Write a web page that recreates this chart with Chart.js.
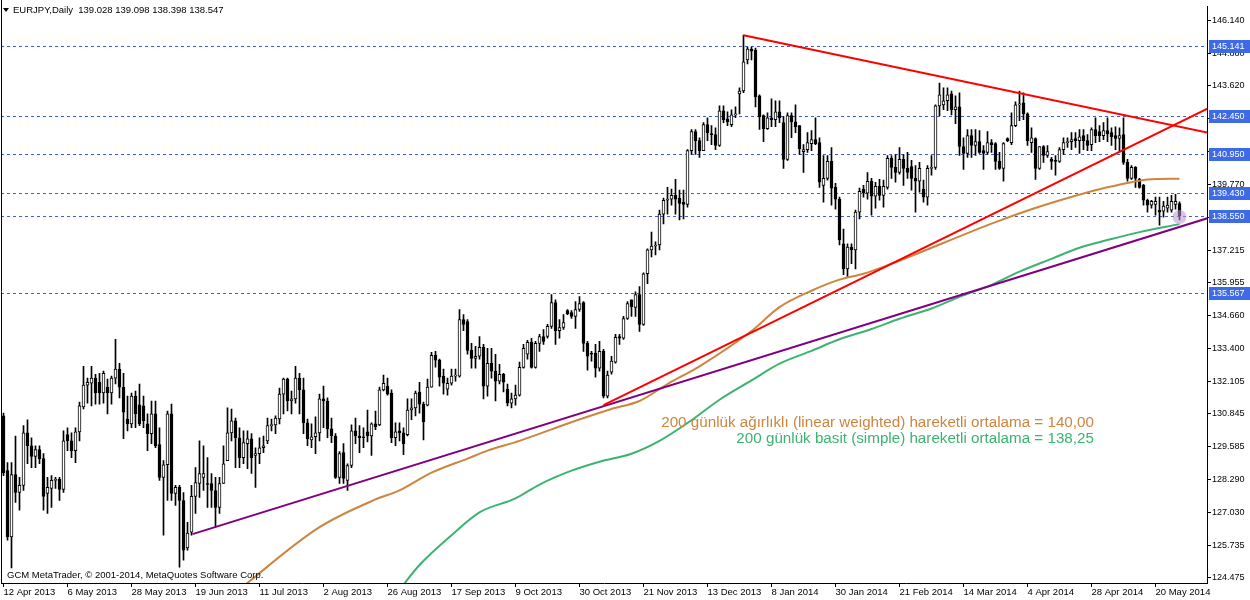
<!DOCTYPE html>
<html>
<head>
<meta charset="utf-8">
<title>EURJPY,Daily</title>
<script src="https://cdn.jsdelivr.net/npm/chart.js@4.4.1/dist/chart.umd.min.js"></script>
<style>
    html, body { margin: 0; padding: 0; background: #fff; }
    #wrap { width: 1250px; height: 600px; }
</style>
</head>
<body>
<div id="wrap"><canvas id="chart" width="1250" height="600"></canvas></div>
<script>
// Bar dates shown on the time axis (one label every 16 bars)
var dateLabels = ['12 Apr 2013', '6 May 2013', '28 May 2013', '19 Jun 2013', '11 Jul 2013', '2 Aug 2013',
    '26 Aug 2013', '17 Sep 2013', '9 Oct 2013', '30 Oct 2013', '21 Nov 2013', '13 Dec 2013', '8 Jan 2014',
    '30 Jan 2014', '21 Feb 2014', '14 Mar 2014', '4 Apr 2014', '28 Apr 2014', '20 May 2014'];
var labelStep = 16;

// Daily OHLC, bar 0 = 12 Apr 2013
var opens = [
    130.77,128.64,126.06,128.49,127.79,128.07,130.11,129.61,129.19,129.46,
    129.11,127.75,127.95,128.26,128.30,127.91,130.04,129.80,129.42,130.15,
    131.12,131.97,132.04,132.24,132.08,131.66,131.89,131.66,132.24,132.59,
    131.89,130.65,130.46,131.54,131.20,131.16,130.46,130.08,130.85,129.65,
    128.38,128.87,130.85,127.75,127.99,127.48,125.63,126.25,127.64,128.14,
    128.38,128.14,128.14,127.87,127.21,128.14,129.03,130.11,130.58,129.92,
    129.15,129.69,129.88,129.23,129.30,129.53,129.80,130.39,130.42,130.65,
    131.62,132.20,131.35,131.43,132.24,131.78,130.50,129.84,129.96,130.11,
    131.43,131.35,130.27,129.99,128.38,129.34,128.26,128.84,130.19,129.99,
    129.96,130.15,129.99,130.46,130.42,131.78,131.93,131.66,129.92,130.19,
    130.11,130.04,131.00,131.08,131.70,131.23,131.19,131.89,133.13,132.94,
    132.32,131.81,132.04,132.32,132.32,134.52,134.44,133.32,133.01,133.09,
    133.44,131.93,132.82,132.51,132.12,132.39,131.81,131.27,131.43,131.58,
    132.66,133.17,133.63,132.66,133.59,133.86,133.86,134.25,135.18,134.09,
    134.21,134.87,134.79,134.64,134.91,135.18,133.59,133.21,133.21,132.63,
    133.28,131.54,132.47,132.86,133.86,133.79,134.56,135.29,134.99,135.49,
    134.33,136.30,137.23,137.38,137.42,138.62,139.16,139.20,139.35,139.24,
    139.08,139.00,141.09,141.83,141.48,141.09,142.10,141.75,141.71,141.29,
    142.64,142.33,142.10,142.48,143.30,143.41,144.62,145.04,145.00,143.22,
    142.45,141.94,142.37,142.29,142.60,142.18,140.75,142.45,142.21,142.06,
    141.05,141.13,141.36,141.52,141.40,139.74,140.01,140.67,139.66,139.20,
    137.46,136.49,137.34,137.23,138.70,139.59,139.43,139.90,139.32,139.70,
    139.35,139.66,140.79,140.44,140.24,140.75,140.40,140.47,140.01,139.90,
    139.59,139.28,140.40,140.44,142.83,142.87,143.03,143.30,142.68,142.79,
    141.25,140.98,141.67,141.29,141.44,141.09,141.02,141.40,141.36,140.67,
    140.40,141.56,141.40,142.06,142.87,142.95,142.52,141.40,141.56,140.40,
    141.25,140.90,140.75,140.71,140.67,141.13,141.40,141.44,141.56,141.48,
    141.67,141.48,141.32,141.91,141.83,141.67,141.87,141.79,141.67,141.56,
    141.71,140.63,140.01,140.44,139.97,139.74,139.16,138.97,139.00,138.77,
    138.73,138.85,138.77,139.00,139.028
];
var highs = [
    130.88,128.95,128.95,129.99,128.38,130.39,130.62,129.92,129.61,129.61,
    129.30,128.38,128.45,128.38,128.38,130.19,130.31,130.11,130.31,131.31,
    132.70,132.24,132.70,132.39,132.43,132.51,132.20,132.32,133.75,132.82,
    132.43,131.54,131.66,131.74,132.01,131.54,130.85,131.35,131.35,130.31,
    129.03,130.96,131.23,128.07,128.07,127.79,126.63,128.07,128.76,129.80,
    129.61,129.15,128.53,128.38,128.38,129.61,131.08,131.04,130.69,130.31,
    130.19,130.19,130.08,129.53,129.92,129.99,130.69,130.65,130.77,131.85,
    132.24,132.24,131.74,132.70,132.43,132.24,130.65,130.46,130.73,131.62,
    131.93,131.47,130.69,130.08,129.38,129.69,128.91,130.42,130.69,130.39,
    130.31,131.00,130.50,130.96,131.89,132.36,132.24,131.78,130.50,130.50,
    130.31,131.43,131.43,131.74,132.08,131.31,132.20,133.24,133.28,132.98,
    132.59,132.24,132.59,132.59,134.91,134.71,134.52,133.59,133.48,133.86,
    133.55,133.40,133.40,133.17,132.78,132.43,132.01,131.66,131.97,132.86,
    133.55,133.71,133.79,133.67,133.94,134.13,134.33,135.49,135.29,134.52,
    134.71,134.91,134.87,135.22,135.41,135.22,133.67,133.28,133.55,133.67,
    133.36,132.51,133.09,133.94,133.94,134.64,135.22,135.29,135.60,135.80,
    136.34,137.27,137.92,137.54,138.78,139.24,139.66,139.59,139.97,139.55,
    139.55,141.13,141.91,141.91,141.59,142.18,142.37,142.06,141.98,142.83,
    142.83,142.60,142.68,142.79,143.53,145.58,145.12,145.12,145.08,143.26,
    142.48,142.56,143.10,143.03,143.03,142.41,142.56,142.56,142.87,142.06,
    141.32,141.79,141.87,142.37,141.59,140.90,140.90,141.21,139.82,139.28,
    138.04,137.46,137.46,138.78,139.63,139.74,140.24,140.01,139.86,139.97,
    139.94,140.90,140.90,140.94,141.21,140.94,141.02,140.71,140.51,140.63,
    139.94,140.51,140.90,142.87,143.72,143.53,143.53,143.41,143.22,143.34,
    141.59,141.91,141.91,141.91,141.87,141.29,141.83,141.52,141.40,141.02,
    141.40,141.59,142.56,142.99,143.41,143.34,142.56,141.98,141.59,141.25,
    141.29,141.29,140.83,140.90,141.21,141.59,141.59,141.79,141.79,141.91,
    141.91,141.71,141.98,142.37,142.06,142.18,142.37,141.98,142.02,141.98,
    142.37,140.75,140.51,140.47,140.01,139.78,139.20,139.16,139.28,139.28,
    139.12,139.28,139.35,139.39,139.098
];
var lows = [
    128.45,125.94,124.86,127.40,127.10,127.87,128.91,128.76,128.76,128.91,
    127.10,126.98,127.21,127.95,127.48,127.79,129.42,129.15,128.95,129.80,
    131.04,131.27,131.16,131.23,131.23,131.27,130.85,131.23,132.01,131.47,
    129.88,130.19,130.31,130.31,130.39,130.31,129.42,129.69,129.53,128.26,
    126.13,127.48,127.48,127.29,124.89,125.16,125.55,126.13,126.98,127.60,
    127.87,127.21,127.21,126.44,126.98,128.14,129.03,129.80,128.76,128.76,
    128.91,128.72,128.53,127.99,128.91,129.34,129.69,130.19,130.08,130.46,
    130.85,130.96,130.85,131.27,130.85,130.08,129.61,129.53,129.30,129.80,
    130.31,129.92,129.73,128.34,128.14,128.14,127.87,128.76,129.69,129.34,
    129.53,129.76,129.23,130.23,130.39,131.74,131.58,129.73,129.61,129.80,
    129.26,129.99,130.62,130.77,130.88,129.84,131.16,131.89,132.67,131.93,
    131.62,131.58,131.97,132.12,132.28,134.09,133.17,132.63,132.63,132.98,
    131.43,131.54,132.24,131.35,132.01,131.70,131.16,131.08,131.19,131.54,
    132.63,132.98,132.63,132.63,133.28,133.55,133.79,134.17,133.55,133.79,
    134.13,134.71,134.56,134.17,134.83,133.28,132.55,132.90,132.28,132.51,
    131.47,131.47,132.39,132.82,133.55,133.75,134.52,134.64,134.64,134.06,
    134.29,135.91,136.95,137.03,137.23,138.24,138.62,138.97,138.62,138.39,
    138.43,138.89,140.94,140.94,140.83,141.09,141.48,141.32,141.13,141.25,
    142.18,142.06,142.02,142.37,142.52,143.34,144.46,144.62,142.79,141.91,
    141.44,141.91,142.02,142.02,142.18,140.40,140.71,141.59,141.79,140.94,
    140.24,141.02,141.09,141.32,139.66,139.08,139.94,138.97,138.81,137.42,
    136.26,136.15,136.69,136.49,138.43,139.28,139.20,138.58,138.85,139.16,
    138.89,139.59,140.01,139.86,140.17,139.74,140.01,139.55,138.70,139.47,
    139.08,138.97,140.13,140.36,142.45,142.68,142.64,142.48,142.14,140.90,
    140.36,140.83,140.83,140.90,140.98,140.36,140.94,141.02,140.36,140.36,
    139.90,141.44,141.32,142.02,142.25,142.29,141.29,141.02,139.97,140.36,
    140.63,140.83,140.36,140.13,140.63,140.94,141.21,141.13,141.21,140.98,
    141.13,141.09,141.09,141.40,141.44,141.52,141.44,141.29,141.13,141.09,
    140.55,139.90,139.97,139.66,139.63,138.97,138.70,138.85,138.58,138.19,
    138.50,138.70,138.70,138.81,138.398
];
var closes = [
    128.56,126.06,128.49,127.79,128.07,130.11,129.61,129.19,129.46,129.11,
    127.64,127.99,128.26,128.30,127.91,129.80,129.80,129.42,130.15,131.16,
    131.97,132.08,132.24,131.66,131.66,132.43,131.66,132.24,132.59,131.89,
    130.92,130.46,131.54,130.85,130.46,130.58,130.08,130.85,129.61,128.38,
    128.87,130.85,127.75,127.99,127.48,125.55,126.21,127.64,128.18,128.53,
    128.53,128.10,127.87,127.21,128.14,128.91,130.11,130.58,129.92,129.15,
    129.73,129.88,129.15,129.30,129.53,129.61,130.39,130.42,130.69,131.62,
    132.20,131.35,131.43,132.24,131.78,130.50,129.88,129.96,130.11,131.43,
    131.35,130.27,129.99,128.38,129.30,128.34,128.84,130.19,129.99,129.92,
    129.92,129.99,130.46,130.35,131.78,132.04,131.62,129.92,130.15,130.11,
    129.69,131.00,131.08,131.66,131.23,130.54,131.89,133.13,132.94,132.28,
    132.04,132.04,132.32,132.36,134.52,134.33,133.32,133.01,133.09,133.44,
    131.93,132.82,132.51,132.12,132.39,132.08,131.27,131.43,131.58,132.66,
    133.40,133.63,132.66,133.59,133.86,133.67,134.25,135.18,134.09,134.21,
    134.40,134.75,134.64,134.91,135.14,133.59,133.09,133.17,132.63,133.28,
    131.54,132.36,132.90,133.83,133.79,134.56,135.14,135.02,135.49,134.33,
    136.30,137.23,137.38,137.42,138.62,139.16,139.20,139.35,139.20,139.04,
    139.00,141.09,141.83,141.48,141.09,142.10,141.79,141.71,141.29,142.64,
    142.29,142.21,142.48,142.52,143.41,144.54,145.04,144.96,143.18,142.41,
    141.94,142.37,142.29,142.60,142.37,140.75,142.45,142.21,142.02,141.17,
    141.13,141.40,141.52,141.36,139.86,140.01,140.67,139.63,139.20,137.62,
    136.49,137.34,137.23,138.70,139.51,139.43,139.90,139.32,139.70,139.35,
    139.70,140.79,140.44,140.24,140.75,140.40,140.24,140.01,139.90,140.40,
    139.28,140.40,140.44,142.83,143.26,143.03,143.26,142.68,142.79,141.25,
    140.98,141.67,141.29,141.44,141.02,140.98,141.40,141.32,140.67,140.40,
    141.36,141.48,142.06,142.87,142.91,142.52,141.48,141.59,140.40,141.25,
    140.90,141.05,140.67,140.67,141.13,141.40,141.44,141.52,141.48,141.63,
    141.48,141.29,141.91,141.67,141.67,141.87,141.75,141.63,141.56,141.67,
    140.63,140.01,140.44,140.01,139.66,139.16,138.97,139.12,139.12,138.70,
    138.93,138.97,139.12,139.12,138.547
];

// 200-day moving averages (bar index / price)
var lwmaIdx = [58, 79, 93, 99, 107, 116, 121, 129, 143, 152, 159, 166, 174, 187, 194, 202, 209, 215, 222, 248, 257, 265, 274, 282, 286, 294];
var lwmaVal = [123.90, 126.44, 127.52, 127.87, 128.56, 129.11, 129.42, 129.80, 130.58, 131.04, 131.35, 132.01, 132.70, 134.07, 135.00, 135.64, 136.07, 136.30, 136.69, 138.31, 138.81, 139.20, 139.59, 139.86, 139.97, 140.00];
var smaIdx = [97, 104, 112, 119, 128, 134, 142, 149, 157, 164, 172, 179, 187, 194, 202, 209, 217, 224, 232, 239, 247, 254, 262, 269, 277, 284, 294];
var smaVal = [123.60, 124.97, 126.13, 127.02, 127.56, 128.10, 128.64, 128.99, 129.30, 129.80, 130.60, 131.40, 132.15, 132.80, 133.30, 133.75, 134.15, 134.55, 134.95, 135.40, 135.87, 136.38, 136.88, 137.31, 137.65, 137.92, 138.23];

// Trend lines (two end points each)
var redUpIdx = [150, 301], redUpVal = [131.19, 142.72];
var redDownIdx = [185, 301], redDownVal = [145.58, 141.79];
var purpleIdx = [47.25, 301], purpleVal = [126.17, 138.46];

// Horizontal levels and price axis ticks
var levels = [145.141, 142.450, 140.950, 139.430, 138.550, 135.567];
var priceTicks = [146.140, 144.880, 143.620, 142.340, 141.055, 139.770, 138.490, 137.215, 135.955,
    134.660, 133.400, 132.105, 130.845, 129.585, 128.290, 127.030, 125.735, 124.475];

var lwmaText = '200 günlük ağırlıklı (linear weighted) hareketli ortalama = 140,00';
var smaText = '200 günlük basit (simple) hareketli ortalama = 138,25';

var smallFont = '"Liberation Sans", Arial, sans-serif';

function pts(xs, ys) {
    return xs.map(function (x, i) { return { x: x, y: ys[i] }; });
}

// Overlay: levels, their price tags, texts
var overlay = {
    id: 'overlay',
    beforeDatasetsDraw: function (chart) {
        var c = chart.ctx, a = chart.chartArea, y = chart.scales.y;
        c.save();
        c.strokeStyle = '#3a5fe0';
        c.lineWidth = 1;
        c.setLineDash([3, 3]);
        levels.forEach(function (v) {
            var py = Math.round(y.getPixelForValue(v)) + 0.5;
            c.beginPath();
            c.moveTo(a.left, py);
            c.lineTo(a.right, py);
            c.stroke();
        });
        c.restore();
    },
    afterDatasetsDraw: function (chart) {
        var c = chart.ctx, x = chart.scales.x, y = chart.scales.y;
        var last = opens.length - 1;
        c.save();
        c.fillStyle = 'rgba(190, 150, 205, 0.55)';
        c.beginPath();
        c.arc(x.getPixelForValue(last), y.getPixelForValue(138.51), 7, 0, Math.PI * 2);
        c.fill();
        c.restore();
    },
    afterDraw: function (chart) {
        var c = chart.ctx, a = chart.chartArea, x = chart.scales.x, y = chart.scales.y;
        c.save();

        // left frame
        c.strokeStyle = '#000';
        c.lineWidth = 1;
        c.beginPath();
        c.moveTo(a.left + 0.5, 0);
        c.lineTo(a.left + 0.5, a.bottom);
        c.stroke();

        // price tags of the levels
        c.font = '9px ' + smallFont;
        c.textBaseline = 'middle';
        c.textAlign = 'left';
        levels.forEach(function (v) {
            var py = Math.round(y.getPixelForValue(v));
            c.fillStyle = '#3f6ae6';
            c.fillRect(a.right + 2, py - 6, 1250 - a.right - 2, 13);
            c.fillStyle = '#fff';
            c.fillText(v.toFixed(3), a.right + 5, py + 0.5);
        });

        // symbol header
        c.fillStyle = '#000';
        c.beginPath();
        c.moveTo(3, 8);
        c.lineTo(9, 8);
        c.lineTo(6, 12);
        c.closePath();
        c.fill();
        c.font = '9.5px ' + smallFont;
        c.fillText('EURJPY,Daily  139.028 139.098 138.398 138.547', 13, 10);

        // copyright
        c.fillText('GCM MetaTrader, \u00a9 2001-2014, MetaQuotes Software Corp.', 7, 575);

        // moving average notes
        c.font = '15.2px ' + smallFont;
        c.textAlign = 'right';
        var tx = x.getPixelForValue(272.6);
        c.fillStyle = '#cd853f';
        c.fillText(lwmaText, tx, y.getPixelForValue(130.50));
        c.fillStyle = '#3cb371';
        c.fillText(smaText, tx, y.getPixelForValue(129.88));
        c.restore();
    }
};

// Candles
var wicks = lows.map(function (l, i) { return { x: i, y: [l, highs[i]] }; });
var bodies = opens.map(function (o, i) { return { x: i, y: [o, closes[i]] }; });
var bodyColors = opens.map(function (o, i) { return closes[i] >= o ? '#ffffff' : '#000000'; });

var ctx = document.getElementById('chart').getContext('2d');
var chart = new Chart(ctx, {
    type: 'bar',
    data: {
        datasets: [
            { type: 'line', data: pts(redDownIdx, redDownVal), borderColor: '#ff0000', borderWidth: 2, pointRadius: 0, order: 1 },
            { type: 'line', data: pts(redUpIdx, redUpVal), borderColor: '#ff0000', borderWidth: 2, pointRadius: 0, order: 1 },
            { type: 'line', data: pts(purpleIdx, purpleVal), borderColor: '#800080', borderWidth: 2, pointRadius: 0, order: 2 },
            { type: 'line', data: pts(lwmaIdx, lwmaVal), borderColor: '#cd853f', borderWidth: 2, pointRadius: 0, cubicInterpolationMode: 'monotone', order: 3 },
            { type: 'line', data: pts(smaIdx, smaVal), borderColor: '#3cb371', borderWidth: 2, pointRadius: 0, cubicInterpolationMode: 'monotone', order: 3 },
            {
                type: 'bar', data: bodies, backgroundColor: bodyColors, borderColor: '#000', borderWidth: 1,
                borderSkipped: false, barThickness: 3, grouped: false, minBarLength: 1, order: 8
            },
            { type: 'bar', data: wicks, backgroundColor: '#000', barThickness: 1, grouped: false, order: 9 }
        ]
    },
    options: {
        responsive: false,
        animation: false,
        devicePixelRatio: 1,
        layout: { padding: { left: 1, top: 3, right: 0, bottom: 0 } },
        plugins: { legend: { display: false }, tooltip: { enabled: false } },
        scales: {
            x: {
                type: 'linear', min: -0.625, max: 300.875, offset: false,
                grid: { display: true, drawOnChartArea: false, drawTicks: true, tickLength: 4, color: '#000', offset: false },
                border: { display: true, color: '#000' },
                ticks: {
                    autoSkip: false, maxRotation: 0, align: 'start', padding: 0, color: '#000',
                    font: { family: smallFont, size: 9.5 },
                    callback: function (v) { return dateLabels[Math.round(v / labelStep)]; }
                },
                afterBuildTicks: function (axis) {
                    axis.ticks = dateLabels.map(function (d, i) { return { value: i * labelStep }; });
                },
                afterFit: function (axis) { axis.height = 17; }
            },
            y: {
                position: 'right', min: 124.27, max: 146.70,
                grid: { display: true, drawOnChartArea: false, drawTicks: true, tickLength: 4, color: '#000' },
                border: { display: true, color: '#000' },
                ticks: {
                    padding: 1, color: '#000',
                    font: { family: smallFont, size: 9 },
                    callback: function (v) { return v.toFixed(3); }
                },
                afterBuildTicks: function (axis) {
                    axis.ticks = priceTicks.map(function (v) { return { value: v }; });
                },
                afterFit: function (axis) { axis.width = 43; }
            }
        }
    },
    plugins: [overlay]
});
</script>
</body>
</html>
